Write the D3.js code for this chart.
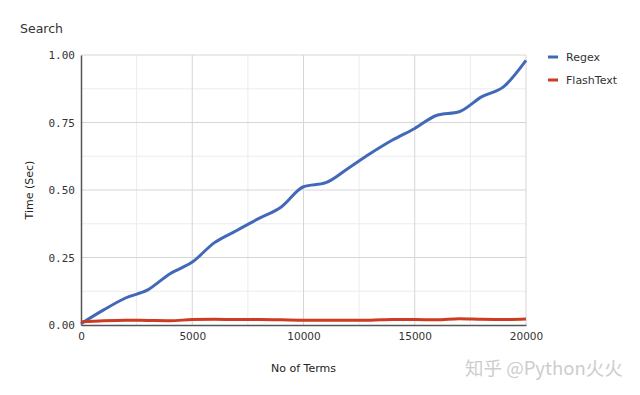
<!DOCTYPE html>
<html>
<head>
<meta charset="utf-8">
<script src="https://cdn.jsdelivr.net/npm/d3@7"></script>
<style>
  body { margin: 0; background: #fff; }
  svg { display: block; }
</style>
</head>
<body>
<div id="chart"></div>
<script>
// data
var terms     = [0, 1000, 2000, 3000, 4000, 5000, 6000, 7000, 8000, 9000, 10000,
                 11000, 12000, 13000, 14000, 15000, 16000, 17000, 18000, 19000, 20000];
var regex     = [0.005, 0.055, 0.10, 0.13, 0.19, 0.233, 0.305, 0.35, 0.395, 0.437, 0.512,
                 0.527, 0.58, 0.635, 0.685, 0.728, 0.777, 0.79, 0.845, 0.883, 0.98];
var flashtext = [0.012, 0.016, 0.018, 0.017, 0.016, 0.02, 0.021, 0.02, 0.02, 0.019, 0.018,
                 0.018, 0.018, 0.018, 0.02, 0.02, 0.019, 0.023, 0.021, 0.02, 0.022];
var seriesNames  = ["Regex", "FlashText"];
var seriesColors = ["#4269b8", "#cc3b22"];
var xTicks = [0, 5000, 10000, 15000, 20000];
var yTicks = [0, 0.25, 0.5, 0.75, 1.0];

var width = 640, height = 395,
    margin = {top: 55, right: 114, bottom: 70, left: 81};

var svg = d3.select("#chart").append("svg")
    .attr("width", width)
    .attr("height", height);

var x = d3.scaleLinear().domain([0, 20000]).range([margin.left, width - margin.right]);
var y = d3.scaleLinear().domain([0, 1]).range([height - margin.bottom, margin.top]);

// minor grid
svg.append("g").selectAll("line")
  .data(d3.range(2500, 20000, 5000))
  .enter().append("line")
    .attr("x1", d => x(d)).attr("x2", d => x(d))
    .attr("y1", y(0)).attr("y2", y(1))
    .style("stroke", "#ececec");
svg.append("g").selectAll("line")
  .data(d3.range(0.125, 1, 0.25))
  .enter().append("line")
    .attr("x1", x(0)).attr("x2", x(20000))
    .attr("y1", d => y(d)).attr("y2", d => y(d))
    .style("stroke", "#ececec");

// major grid
svg.append("g").selectAll("line")
  .data(xTicks.slice(1))
  .enter().append("line")
    .attr("x1", d => x(d)).attr("x2", d => x(d))
    .attr("y1", y(0)).attr("y2", y(1))
    .style("stroke", "#d6d6d6");
svg.append("g").selectAll("line")
  .data(yTicks.slice(1))
  .enter().append("line")
    .attr("x1", x(0)).attr("x2", x(20000))
    .attr("y1", d => y(d)).attr("y2", d => y(d))
    .style("stroke", "#d6d6d6");

// axes
var xAxis = svg.append("g")
    .attr("transform", "translate(0," + y(0) + ")")
    .call(d3.axisBottom(x).tickValues(xTicks).tickSize(0).tickPadding(8).tickFormat(d3.format("d")));
xAxis.select(".domain").style("stroke", "#555").style("stroke-width", 1.5);
xAxis.selectAll("text")
    .style("font-family", "DejaVu Sans, Verdana, sans-serif")
    .style("font-size", "10.5px")
    .style("fill", "#333");

var yAxis = svg.append("g")
    .attr("transform", "translate(" + x(0) + ",0)")
    .call(d3.axisLeft(y).tickValues(yTicks).tickSize(0).tickPadding(6).tickFormat(d3.format(".2f")));
yAxis.select(".domain").style("stroke", "#555").style("stroke-width", 1.5);
yAxis.selectAll("text")
    .style("font-family", "DejaVu Sans Mono, monospace")
    .style("font-size", "11px")
    .style("fill", "#333");

// lines
var line = d3.line()
    .x((d, i) => x(terms[i]))
    .y(d => y(d))
    .curve(d3.curveMonotoneX);

[regex, flashtext].forEach(function(vals, i) {
  svg.append("path")
    .datum(vals)
    .attr("d", line)
    .style("fill", "none")
    .style("stroke", seriesColors[i])
    .style("stroke-width", 3)
    .style("stroke-linejoin", "round");
});

// titles
svg.append("text")
    .attr("x", 20).attr("y", 33)
    .text("Search")
    .style("font-family", "DejaVu Sans, Verdana, sans-serif")
    .style("font-size", "12.5px")
    .style("fill", "#333");

svg.append("text")
    .attr("transform", "translate(33," + y(0.5) + ") rotate(-90)")
    .attr("text-anchor", "middle")
    .text("Time (Sec)")
    .style("font-family", "DejaVu Sans, Verdana, sans-serif")
    .style("font-size", "11px")
    .style("fill", "#222");

svg.append("text")
    .attr("x", (x(0) + x(20000)) / 2).attr("y", 372)
    .attr("text-anchor", "middle")
    .text("No of Terms")
    .style("font-family", "DejaVu Sans, Verdana, sans-serif")
    .style("font-size", "11px")
    .style("fill", "#222");

// legend
var legend = svg.append("g").selectAll("g")
  .data(seriesNames)
  .enter().append("g")
    .attr("transform", (d, i) => "translate(548," + (57 + i * 23) + ")");
legend.append("line")
    .attr("x1", 0).attr("x2", 10)
    .style("stroke", (d, i) => seriesColors[i])
    .style("stroke-width", 3);
legend.append("text")
    .attr("x", 18).attr("y", 4)
    .text(d => d)
    .style("font-family", "DejaVu Sans, Verdana, sans-serif")
    .style("font-size", "11px")
    .style("fill", "#333");

// watermark
svg.append("text")
    .attr("x", 465).attr("y", 375)
    .text("知乎 @Python火火")
    .style("font-family", "Noto Sans CJK SC, sans-serif")
    .style("font-size", "18.5px")
    .style("fill", "#cdcdcd");
</script>
</body>
</html>
